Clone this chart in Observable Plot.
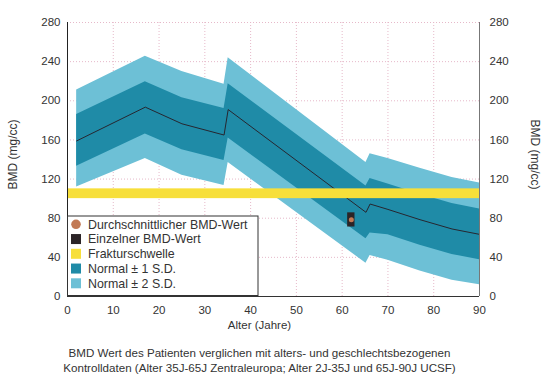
<!DOCTYPE html>
<html><head><meta charset="utf-8">
<script src="https://cdn.jsdelivr.net/npm/d3@7"></script>
<script src="https://cdn.jsdelivr.net/npm/@observablehq/plot@0.6"></script>
<style>
body{margin:0;background:#fff;font-family:"Liberation Sans",Arial,sans-serif;}
#wrap{width:550px;}
#caption{width:519px;text-align:center;font-size:11.6px;line-height:15px;color:#333;padding-top:5px;}
</style></head><body>
<div id="wrap"></div>
<div id="caption"></div>
<script>
// Age (years)
const ages   = [2,   17,    25,  34.2, 35.1, 65.2, 66.1, 70,  77,   84,   90];
// Mean BMD (mg/cc)
const mean   = [159, 193.5, 176.5, 165, 191,  86,   94.5, 89,  78.5, 69,   63.5];
// Normal ± 1 S.D.
const plus1  = [186, 219.5, 203, 192,  217.5, 113, 120.5, 115, 104.5, 95,  89.5];
const minus1 = [133, 166,   150, 139,  162,   59,  65,    63,  52.5,  43,  37.5];
// Normal ± 2 S.D.
const plus2  = [211, 245.5, 230, 217,  244,  137,  146,   141, 131,  121.5, 116];
const minus2 = [112, 141,   124, 113.5, 137,  34,   42,    37,  26,   16.5,  12];
// Fracture threshold band
const fracture = [{lo: 100, hi: 110}];
// Single patient value
const patient = [{age: 62, bmd: 78}];

const xTicks = [0,10,20,30,40,50,60,70,80,90];
const yTicks = [0,40,80,120,160,200,240,280];
const yLabel = "BMD (mg/cc)";
const xLabel = "Alter (Jahre)";
const legendLabels = ["Durchschnittlicher BMD-Wert","Einzelner BMD-Wert","Frakturschwelle","Normal \u00b1 1 S.D.","Normal \u00b1 2 S.D."];
const legendColors = ["#c27a55","#2b2427","#f7df3a","#1f8ba7","#6dc0d6"];
const captionLines = ["BMD Wert des Patienten verglichen mit alters- und geschlechtsbezogenen","Kontrolldaten (Alter 35J-65J Zentraleuropa; Alter 2J-35J und 65J-90J UCSF)"];

const rows = ages.map((a,i)=>({age:a, mean:mean[i], p1:plus1[i], m1:minus1[i], p2:plus2[i], m2:minus2[i]}));
const font = "'Liberation Sans', Arial, sans-serif";

const chart = Plot.plot({
  width: 550, height: 340,
  marginLeft: 67, marginRight: 71, marginTop: 22, marginBottom: 44,
  style: {fontFamily: font, fontSize: "11.5px", color: "#333", background: "white"},
  x: {domain: [0, 90]},
  y: {domain: [0, 280]},
  marks: [
    Plot.gridX(xTicks.slice(1, -1), {stroke: "#e6b9c9", strokeOpacity: 1, strokeDasharray: "1,2"}),
    Plot.gridY(yTicks.slice(1), {stroke: "#e6b9c9", strokeOpacity: 1, strokeDasharray: "1,2"}),
    Plot.areaY(rows, {x: "age", y1: "m2", y2: "p2", fill: legendColors[4]}),
    Plot.areaY(rows, {x: "age", y1: "m1", y2: "p1", fill: legendColors[3]}),
    Plot.line(rows, {x: "age", y: "mean", stroke: "#262630", strokeWidth: 1}),
    Plot.rect(fracture, {y1: "lo", y2: "hi", fill: legendColors[2]}),
    Plot.rect(patient, {x1: d => d.age - 0.8, x2: d => d.age + 0.8, y1: d => d.bmd - 7, y2: d => d.bmd + 7.5, fill: legendColors[1]}),
    Plot.dot(patient, {x: "age", y: d => d.bmd + 0.5, r: 2.5, fill: legendColors[0]}),
    Plot.ruleX([0], {stroke: "#222"}),
    Plot.ruleX([90], {stroke: "#777"}),
    Plot.ruleY([0], {stroke: "#333"}),
    Plot.axisY(yTicks, {anchor: "left", tickSize: 0, tickPadding: 7, label: null}),
    Plot.axisY(yTicks, {anchor: "right", tickSize: 0, tickPadding: 10, label: null}),
    Plot.axisX(xTicks, {anchor: "bottom", tickSize: 0, tickPadding: 9, label: null}),
    Plot.text([yLabel], {frameAnchor: "left", rotate: -90, textAnchor: "middle", lineAnchor: "middle", dx: -54.5, dy: -5, fontSize: 12, fill: "#333"}),
    Plot.text([yLabel], {frameAnchor: "right", rotate: 90, textAnchor: "middle", lineAnchor: "middle", dx: 55, dy: -5, fontSize: 12, fill: "#333"}),
    Plot.text([xLabel], {frameAnchor: "bottom", textAnchor: "middle", lineAnchor: "middle", dx: -14, dy: 29, fontSize: 11.5, fill: "#333"})
  ]
});
document.getElementById("wrap").appendChild(chart);

// Legend (inside plot, bottom-left)
const svg = d3.select(chart);
const g = svg.append("g").attr("font-family", font).attr("font-size", "12.4px").attr("fill", "#333").attr("text-anchor", "start");
g.append("rect").attr("x", 67.5).attr("y", 216).attr("width", 190.5).attr("height", 79.5)
  .attr("fill", "white").attr("stroke", "#333").attr("stroke-width", 1);
legendLabels.forEach((lab, i) => {
  const cy = 224.3 + i * 14.75;
  if (i === 0) {
    g.append("circle").attr("cx", 76).attr("cy", cy).attr("r", 4.8).attr("fill", legendColors[i]);
  } else {
    g.append("rect").attr("x", 71).attr("y", cy - 5).attr("width", 10).attr("height", 10).attr("fill", legendColors[i]);
  }
  g.append("text").attr("x", 88).attr("y", cy).attr("dy", "0.35em").attr("text-anchor", "start").text(lab);
});

const cap = document.getElementById("caption");
captionLines.forEach(l => { const d = document.createElement("div"); d.textContent = l; cap.appendChild(d); });
</script>
</body></html>
